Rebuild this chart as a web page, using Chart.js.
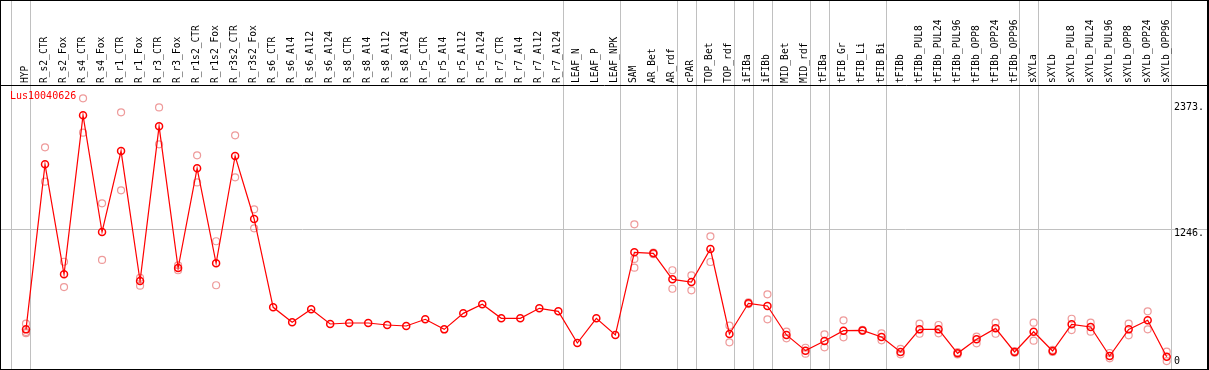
<!DOCTYPE html>
<html>
<head>
<meta charset="utf-8">
<script src="https://cdn.jsdelivr.net/npm/chart.js@4.4.0/dist/chart.umd.min.js"></script>
<style>
  html, body { margin: 0; padding: 0; background: #fff; }
  #wrap { position: relative; width: 1209px; height: 370px; }
  #geneName { position: absolute; left: 10px; top: 91px; font: 10px "DejaVu Sans Mono", monospace; color: #f00; line-height: 10px; }
</style>
</head>
<body>
<div id="wrap">
  <canvas id="chart" width="1209" height="370"></canvas>
  <div id="geneName">Lus10040626</div>
</div>
<script>
// ===== 数据 =====
const CATEGORIES = [
  "HYP", "R_s2_CTR", "R_s2_Fox", "R_s4_CTR", "R_s4_Fox", "R_r1_CTR", "R_r1_Fox", "R_r3_CTR", "R_r3_Fox",
  "R_r1s2_CTR", "R_r1s2_Fox", "R_r3s2_CTR", "R_r3s2_Fox", "R_s6_CTR", "R_s6_Al4", "R_s6_Al12", "R_s6_Al24",
  "R_s8_CTR", "R_s8_Al4", "R_s8_Al12", "R_s8_Al24", "R_r5_CTR", "R_r5_Al4", "R_r5_Al12", "R_r5_Al24",
  "R_r7_CTR", "R_r7_Al4", "R_r7_Al12", "R_r7_Al24", "LEAF_N", "LEAF_P", "LEAF_NPK", "SAM", "AR_Bet", "AR_rdf",
  "cPAR", "TOP_Bet", "TOP_rdf", "iFIBa", "iFIBb", "MID_Bet", "MID_rdf", "tFIBa", "tFIB_Gr", "tFIB_Li", "tFIB_Bi",
  "tFIBb", "tFIBb_PUL8", "tFIBb_PUL24", "tFIBb_PUL96", "tFIBb_OPP8", "tFIBb_OPP24", "tFIBb_OPP96",
  "sXYLa", "sXYLb", "sXYLb_PUL8", "sXYLb_PUL24", "sXYLb_PUL96", "sXYLb_OPP8", "sXYLb_OPP24", "sXYLb_OPP96"
];

// 均值（连线的深红圈）
const MEANS = [
  354, 1828, 846, 2266, 1224, 1947, 786, 2168, 902, 1793, 944, 1903, 1340,
  551, 417, 533, 402, 411, 411, 393, 384, 444, 354, 497, 578, 453, 453, 542, 515,
  232, 453, 304, 1042, 1033, 801, 777, 1072, 313, 587, 563, 304, 164, 250, 342, 345, 286,
  152, 354, 354, 140, 265, 363, 152, 333, 161, 399, 375, 116, 354, 435, 110
];

// 重复样本（浅红圈），null = 没有
const REP_A = [
  405, 1980, 958, 2418, 1480, 2293, 815, 2337, 926, 1909, 1141, 2087, 1426,
  null, null, null, null, null, null, null, null, null, null, null, null, null, null, null, null,
  null, null, null, 1292, 1040, 882, 837, 1185, 387, 595, 667, 333, 190, 310, 435, 350, 319,
  179, 405, 393, 150, 289, 414, 160, 414, 170, 449, 414, 143, 405, 515, 155
];
const REP_B = [
  330, 1673, 732, 2111, 974, 1596, 744, 2007, 882, 1667, 748, 1712, 1257,
  null, null, null, null, null, null, null, null, null, null, null, null, null, null, null, null,
  null, null, null, 983, 1026, 717, 703, 956, 238, 580, 444, 274, 137, 194, 283, 340, 256,
  131, 315, 319, 130, 229, 315, 145, 253, 152, 348, 333, 95, 301, 354, 71
];
const REP_C = [
  320, null, null, null, null, null, null, null, null, null, null, null, null,
  null, null, null, null, null, null, null, null, null, null, null, null, null, null, null, null,
  null, null, null, 905, null, null, null, null, null, null, null, null, null, null, null, null, null,
  null, null, null, null, null, null, null, null, null, null, null, null, null, null, null
];

// 分组分隔线：在这些索引之后画竖线
const GROUP_BREAK_AFTER = [-1, 0, 28, 31, 34, 35, 37, 38, 39, 41, 42, 45, 52, 53, 60];
const Y_TICKS = [0, 1246, 2373];
const Y_MAX = 2537;

const GRID_GRAY = "#c0c0c0";
const MONO = '"DejaVu Sans Mono", monospace';

const breaks = GROUP_BREAK_AFTER.map((i) => i + 0.25);

const meanPoints = MEANS.map((v, i) => ({ x: i, y: v }));
const repPoints = [];
[REP_A, REP_B, REP_C].forEach((arr) => {
  arr.forEach((v, i) => { if (v != null) repPoints.push({ x: i, y: v }); });
});

// 外框
const framePlugin = {
  id: "frame",
  afterDraw(chart) {
    const { ctx, width, height } = chart;
    ctx.save();
    ctx.fillStyle = "#000";
    ctx.fillRect(0, 0, width, 1);
    ctx.fillRect(0, 0, 1, height);
    ctx.fillRect(0, height - 1, width, 1);
    ctx.fillRect(width - 2, 0, 2, height);
    ctx.restore();
  }
};

new Chart(document.getElementById("chart"), {
  type: "line",
  data: {
    datasets: [
      {
        label: "mean",
        data: meanPoints,
        borderColor: "#ff0000",
        borderWidth: 1.2,
        pointStyle: "circle",
        pointRadius: 3.5,
        pointBorderWidth: 1.5,
        pointBorderColor: "#ff0000",
        pointBackgroundColor: "rgba(0,0,0,0)",
        tension: 0
      },
      {
        label: "replicates",
        data: repPoints,
        showLine: false,
        pointStyle: "circle",
        pointRadius: 3.5,
        pointBorderWidth: 1.2,
        pointBorderColor: "rgba(232,120,120,0.75)",
        pointBackgroundColor: "rgba(0,0,0,0)"
      }
    ]
  },
  options: {
    responsive: false,
    animation: false,
    layout: { autoPadding: false, padding: { left: 1, right: 0, top: 0, bottom: 1 } },
    plugins: { legend: { display: false }, tooltip: { enabled: false }, title: { display: false } },
    scales: {
      x: {
        type: "linear",
        position: "top",
        min: -1.315,
        max: 62.12,
        afterBuildTicks(scale) {
          const vals = CATEGORIES.map((_, i) => i).concat(breaks).sort((a, b) => a - b);
          scale.ticks = vals.map((v) => ({ value: v }));
        },
        afterFit(scale) {
          scale.height = 85;
          scale.paddingLeft = 0;
          scale.paddingRight = 0;
        },
        grid: {
          drawOnChartArea: true,
          drawTicks: true,
          tickLength: 85,
          lineWidth: 1,
          color: (c) => (c.tick && !Number.isInteger(c.tick.value) ? GRID_GRAY : "rgba(0,0,0,0)")
        },
        border: { display: true, color: "#000", width: 1 },
        ticks: {
          autoSkip: false,
          minRotation: 90,
          maxRotation: 90,
          padding: -83,
          labelOffset: 11,
          color: "#000",
          font: { family: MONO, size: 9.6 },
          callback: (v) => (Number.isInteger(v) ? CATEGORIES[v] : "")
        }
      },
      y: {
        position: "right",
        min: 0,
        max: Y_MAX,
        afterBuildTicks(scale) { scale.ticks = Y_TICKS.map((v) => ({ value: v })); },
        afterFit(scale) {
          scale.width = 2;
          scale.paddingTop = 0;
          scale.paddingBottom = 0;
        },
        grid: {
          drawTicks: false,
          color: (c) => (c.tick && c.tick.value === 1246 ? GRID_GRAY : "rgba(0,0,0,0)")
        },
        border: { display: false },
        ticks: {
          mirror: true,
          padding: -3,
          labelOffset: 4,
          color: "#000",
          font: { family: MONO, size: 10, lineHeight: 1.2 },
          // "0" 与其它刻度左对齐，并抬到底边之上
          callback: (v) => (v === 0 ? ["0    ", "", ""] : v + ".")
        }
      }
    }
  },
  plugins: [framePlugin]
});
</script>
</body>
</html>
